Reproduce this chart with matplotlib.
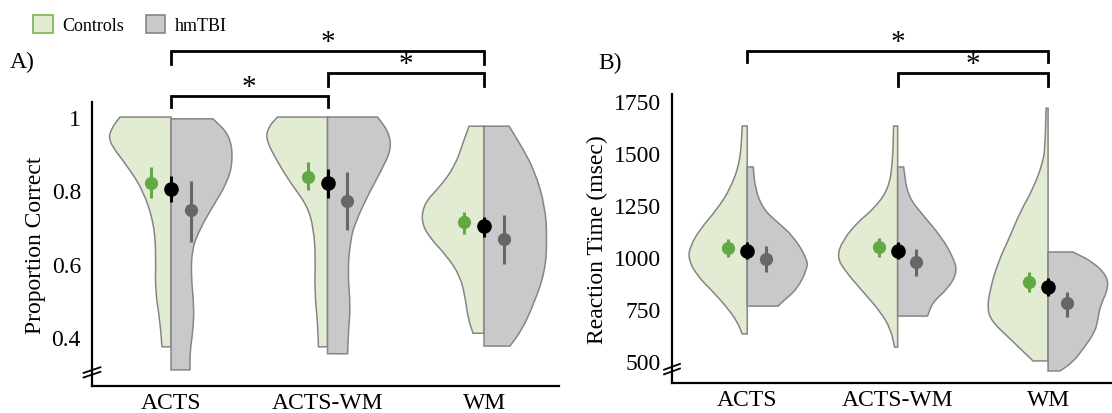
import matplotlib
matplotlib.use("Agg")
import matplotlib.pyplot as plt
from matplotlib.patches import PathPatch, Patch
from matplotlib.path import Path
import numpy as np

plt.rcParams["font.family"] = ["Liberation Serif", "DejaVu Serif"]

conditions = ["ACTS", "ACTS-WM", "WM"]

# ---- A) proportion correct: violin outlines (level, half-width in category units) ----
acc_ctrl_y = [
    [0.373, 0.44, 0.53, 0.62, 0.71, 0.80, 0.867, 0.935, 0.97, 1.0],
    [0.373, 0.44, 0.53, 0.62, 0.695, 0.757, 0.82, 0.877, 0.94, 0.975, 1.0],
    [0.41, 0.45, 0.51, 0.566, 0.62, 0.676, 0.72, 0.768, 0.81, 0.867, 0.93, 0.975],
]
acc_ctrl_w = [
    [0.058, 0.070, 0.102, 0.096, 0.109, 0.179, 0.281, 0.403, 0.380, 0.326],
    [0.058, 0.064, 0.083, 0.077, 0.089, 0.128, 0.236, 0.319, 0.396, 0.375, 0.319],
    [0.070, 0.102, 0.121, 0.153, 0.236, 0.358, 0.403, 0.377, 0.281, 0.185, 0.134, 0.096],
]
acc_tbi_y = [
    [0.31, 0.36, 0.42, 0.485, 0.566, 0.64, 0.695, 0.757, 0.82, 0.88, 0.95, 0.995],
    [0.354, 0.42, 0.485, 0.577, 0.667, 0.713, 0.785, 0.85, 0.913, 0.96, 1.0],
    [0.375, 0.42, 0.485, 0.577, 0.667, 0.757, 0.85, 0.913, 0.975],
]
acc_tbi_w = [
    [0.121, 0.121, 0.141, 0.147, 0.128, 0.134, 0.185, 0.268, 0.358, 0.396, 0.377, 0.268],
    [0.128, 0.134, 0.147, 0.128, 0.147, 0.179, 0.256, 0.339, 0.409, 0.390, 0.319],
    [0.166, 0.243, 0.313, 0.390, 0.403, 0.390, 0.326, 0.249, 0.160],
]

# means with 95% CI
acc_ctrl_mean = [0.820, 0.836, 0.713]
acc_ctrl_lo = [0.780, 0.800, 0.680]
acc_ctrl_hi = [0.864, 0.877, 0.740]
acc_all_mean = [0.804, 0.820, 0.703]
acc_all_lo = [0.768, 0.780, 0.673]
acc_all_hi = [0.840, 0.858, 0.727]
acc_tbi_mean = [0.746, 0.771, 0.667]
acc_tbi_lo = [0.660, 0.692, 0.600]
acc_tbi_hi = [0.825, 0.850, 0.733]

# significant pairs: (from, to, bar height, tick bottom)
acc_sig = [(0, 2, 1.180, 1.145), (1, 2, 1.120, 1.085), (0, 1, 1.057, 1.028)]

# ---- B) reaction time ----
rt_ctrl_y = [
    [630, 688, 750, 832, 909, 990, 1053, 1135, 1231, 1327, 1457, 1630],
    [567, 654, 736, 846, 930, 1000, 1080, 1168, 1231, 1327, 1457, 1630],
    [500, 606, 688, 750, 846, 976, 1101, 1216, 1327, 1457, 1534, 1716],
]
rt_ctrl_w = [
    [0.033, 0.066, 0.126, 0.226, 0.332, 0.392, 0.379, 0.312, 0.199, 0.113, 0.047, 0.033],
    [0.020, 0.047, 0.113, 0.246, 0.346, 0.405, 0.365, 0.266, 0.159, 0.060, 0.033, 0.027],
    [0.100, 0.252, 0.372, 0.405, 0.385, 0.332, 0.252, 0.186, 0.100, 0.033, 0.020, 0.013],
]
rt_tbi_y = [
    [764, 788, 846, 942, 990, 1101, 1168, 1231, 1327, 1433],
    [716, 784, 846, 928, 1005, 1101, 1197, 1293, 1433],
    [452, 495, 558, 639, 702, 764, 846, 909, 976, 1024],
]
rt_tbi_w = [
    [0.206, 0.239, 0.332, 0.399, 0.399, 0.306, 0.199, 0.106, 0.053, 0.040],
    [0.199, 0.233, 0.332, 0.399, 0.365, 0.286, 0.173, 0.066, 0.040],
    [0.080, 0.166, 0.233, 0.312, 0.332, 0.346, 0.399, 0.392, 0.299, 0.166],
]

rt_ctrl_mean = [1043, 1048, 880]
rt_ctrl_lo = [1000, 1000, 832]
rt_ctrl_hi = [1087, 1091, 928]
rt_all_mean = [1029, 1029, 856]
rt_all_lo = [990, 990, 813]
rt_all_hi = [1072, 1072, 899]
rt_tbi_mean = [990, 976, 779]
rt_tbi_lo = [928, 909, 711]
rt_tbi_hi = [1053, 1038, 832]

rt_sig = [(0, 2, 1990, 1937), (1, 2, 1885, 1822)]

CTRL_FILL = "#e2ecd2"
CTRL_EDGE = "#74b553"
TBI_FILL = "#c9c9cb"
OUTLINE = "#858585"
CTRL_DOT = "#62a844"
TBI_DOT = "#666666"
FS = 17


def half_violin(ax, c, ys, ws, side, color):
    """Half violin whose outer edge is a quadratic B-spline over the profile."""
    ys = np.asarray(ys, float)
    ws = np.asarray(ws, float)
    xs = c - ws if side == "left" else c + ws
    pts = np.column_stack([xs, ys])
    verts = [(c, ys[0]), tuple(pts[0]), tuple((pts[0] + pts[1]) / 2)]
    codes = [Path.MOVETO, Path.LINETO, Path.LINETO]
    for i in range(1, len(pts) - 1):
        verts += [tuple(pts[i]), tuple((pts[i] + pts[i + 1]) / 2)]
        codes += [Path.CURVE3, Path.CURVE3]
    verts += [tuple(pts[-1]), (c, ys[-1]), (c, ys[0])]
    codes += [Path.LINETO, Path.LINETO, Path.CLOSEPOLY]
    ax.add_patch(PathPatch(Path(verts, codes), facecolor=color,
                           edgecolor=OUTLINE, linewidth=1.1, zorder=2))


def summary(ax, pos, mean, lo, hi, color, ms):
    pos = np.asarray(pos, float)
    mean = np.asarray(mean, float)
    err = [mean - np.asarray(lo), np.asarray(hi) - mean]
    ax.errorbar(pos, mean, yerr=err, fmt="o", color=color, ms=ms,
                elinewidth=2.2, capsize=0, zorder=4)


def brackets(ax, pairs, drop):
    for i, j, top, bottom in pairs:
        ax.plot([i, i, j, j], [bottom, top, top, bottom], color="black",
                lw=2.0, clip_on=False, solid_joinstyle="miter", zorder=5)
        ax.text((i + j) / 2, top + drop, "*", ha="center", va="center",
                fontsize=21, clip_on=False)


def axis_break(ax):
    # two short slashes across the bottom of the y spine
    for dy in (0.0, 0.016):
        ax.plot([-0.018, 0.018], [0.03 + dy, 0.05 + dy], transform=ax.transAxes,
                color="black", lw=1.3, clip_on=False, zorder=6)


def panel(ax, ctrl_y, ctrl_w, tbi_y, tbi_w, stats, sig, drop):
    x = np.arange(len(conditions))
    for c in x:
        half_violin(ax, c, ctrl_y[c], ctrl_w[c], "left", CTRL_FILL)
        half_violin(ax, c, tbi_y[c], tbi_w[c], "right", TBI_FILL)
    (cm, cl, ch), (am, al, ah), (tm, tl, th) = stats
    summary(ax, x - 0.125, cm, cl, ch, CTRL_DOT, 8.5)
    summary(ax, x, am, al, ah, "black", 9.5)
    summary(ax, x + 0.125, tm, tl, th, TBI_DOT, 8.5)

    ax.set_xticks(x)
    ax.set_xticklabels(conditions)
    ax.tick_params(axis="both", length=0, labelsize=FS)
    ax.tick_params(axis="x", pad=4)
    ax.tick_params(axis="y", pad=8)
    for s in ("top", "right"):
        ax.spines[s].set_visible(False)
    for s in ("left", "bottom"):
        ax.spines[s].set_linewidth(1.6)
    axis_break(ax)
    brackets(ax, sig, drop)


fig = plt.figure(figsize=(11.12, 4.14), dpi=100)
W, H = 1112, 414
axA = fig.add_axes([92 / W, 27 / H, 467 / W, 284 / H])
axB = fig.add_axes([672 / W, 30 / H, 440 / W, 289 / H])

panel(axA, acc_ctrl_y, acc_ctrl_w, acc_tbi_y, acc_tbi_w,
      [(acc_ctrl_mean, acc_ctrl_lo, acc_ctrl_hi),
       (acc_all_mean, acc_all_lo, acc_all_hi),
       (acc_tbi_mean, acc_tbi_lo, acc_tbi_hi)], acc_sig, 0.026)
axA.set_xlim(-0.505, 2.479)
axA.set_ylim(0.266, 1.041)
axA.set_yticks([0.4, 0.6, 0.8, 1.0])
axA.set_yticklabels(["0.4", "0.6", "0.8", "1"])
axA.set_ylabel("Proportion Correct", fontsize=FS, labelpad=4)

panel(axB, rt_ctrl_y, rt_ctrl_w, rt_tbi_y, rt_tbi_w,
      [(rt_ctrl_mean, rt_ctrl_lo, rt_ctrl_hi),
       (rt_all_mean, rt_all_lo, rt_all_hi),
       (rt_tbi_mean, rt_tbi_lo, rt_tbi_hi)], rt_sig, 45)
axB.set_xlim(-0.5, 2.425)
axB.set_ylim(394, 1784)
axB.set_yticks([500, 750, 1000, 1250, 1500, 1750])
axB.set_ylabel("Reaction Time (msec)", fontsize=FS, labelpad=4)

fig.text(10 / W, 1 - 62 / H, "A)", fontsize=FS, va="center", ha="left")
fig.text(598 / W, 1 - 63 / H, "B)", fontsize=FS, va="center", ha="left")

handles = [Patch(facecolor=CTRL_FILL, edgecolor=CTRL_EDGE, linewidth=1.2, label="Controls"),
           Patch(facecolor=TBI_FILL, edgecolor=OUTLINE, linewidth=1.2, label="hmTBI")]
fig.legend(handles=handles, loc="upper left", bbox_to_anchor=(26 / W, 1 - 9 / H),
           ncol=2, frameon=False, fontsize=13, handlelength=1.1, handleheight=1.1,
           handletextpad=0.5, columnspacing=1.2, borderaxespad=0)

fig.savefig("out.png", dpi=100)
